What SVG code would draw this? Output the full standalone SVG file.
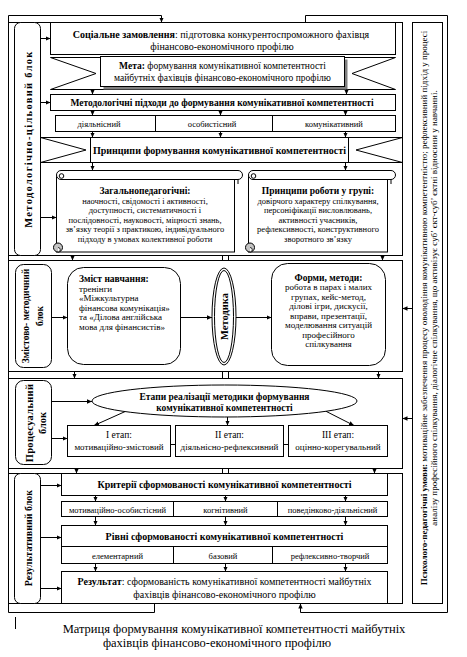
<svg xmlns="http://www.w3.org/2000/svg" width="467" height="657" viewBox="0 0 467 657">
<defs>
<marker id="ah" markerWidth="5" markerHeight="5" refX="5" refY="2.5" orient="auto" markerUnits="userSpaceOnUse"><path d="M0,0.3 L5,2.5 L0,4.7 z" fill="#000"/></marker>
<style>
.s{fill:#fff;stroke:#000;stroke-width:1}
.n{fill:none;stroke:#000;stroke-width:1}
.c{fill:none;stroke:#000;stroke-width:1;marker-end:url(#ah)}
text{font-family:"Liberation Serif","Times New Roman",serif;fill:#000}
.b{font-weight:bold}
.m{text-anchor:middle}
.f10{font-size:10px}
.f95{font-size:9.5px}
.f9{font-size:9px}
.f85{font-size:8.5px}
.g{fill:#c4c4c4;stroke:#000;stroke-width:1}
</style>
</defs>
<rect width="467" height="657" fill="#fff"/>

<g id="block-metod">
<rect class="s" x="8.5" y="22.5" width="394" height="233"/>
<rect class="s" x="14.5" y="22.5" width="26" height="233" rx="6"/>
<text class="b m" font-size="10.5" letter-spacing="1.3" transform="translate(32,139) rotate(-90)">Методологічно-цільовий блок</text>
</g>

<g id="social">
<rect class="s" x="50.5" y="22.5" width="345" height="32"/>
<text class="f10 m" x="221" y="37.5"><tspan class="b">Соціальне замовлення</tspan>: підготовка конкурентоспроможного фахівця</text>
<text class="f10 m" x="222" y="50">фінансово-економічного профілю</text>
</g>

<g id="meta">
<polygon class="s" points="50.5,57.5 395.5,57.5 352,73.5 395.5,89.5 50.5,89.5 96,73.5"/>
<rect x="103.5" y="59.5" width="244" height="30" fill="#7f7f7f"/>
<rect class="s" x="100.5" y="56.5" width="244" height="30"/>
<text class="f95 m" x="222.5" y="68.5"><tspan class="b">Мета:</tspan> формування комунікативної компетентності</text>
<text class="f95 m" x="222.5" y="80.5">майбутніх фахівців фінансово-економічного профілю</text>
</g>

<g id="approaches">
<rect class="s" x="50.5" y="94.5" width="345" height="16"/>
<text class="f95 b m" x="222" y="106">Методологічні підходи до формування комунікативної компетентності</text>
</g>

<g id="approach-cells">
<rect class="s" x="55.5" y="115.5" width="340" height="16"/>
<line class="n" x1="155.5" y1="115.5" x2="155.5" y2="131.5"/>
<line class="n" x1="272.5" y1="115.5" x2="272.5" y2="131.5"/>
<text class="f85 m" x="99" y="127">діяльнісний</text>
<text class="f85 m" x="212" y="127">особистісний</text>
<text class="f85 m" x="334" y="127">комунікативний</text>
</g>

<g id="pryntsypy">
<polygon class="s" points="40.5,137.5 402.5,137.5 356,150 402.5,162.5 40.5,162.5 86,150"/>
<rect class="s" x="90.5" y="137.5" width="258" height="25"/>
<text class="f10 b m" x="219.5" y="153.5">Принципи формування комунікативної компетентності</text>
</g>

<g id="scroll-general">
<rect class="s" x="56.5" y="175.5" width="178" height="76.5"/>
<path class="s" d="M61,170.5 H238 A4.5,4.5 0 0 1 238,179.5 H61 A4.5,4.5 0 0 1 61,170.5 Z"/>
<circle class="n" cx="61.5" cy="176" r="2.3"/>
<path class="n" d="M238,179.5 V184"/>
<circle class="g" cx="58" cy="247.5" r="4.5"/>
<path d="M58,247.5 A2.2,2.2 0 0 1 58,252" fill="#fff" stroke="#000" stroke-width="0.8"/>
<text class="f95 b m" x="145" y="194">Загальнопедагогічні:</text>
<text class="f85 m" x="145" y="203.5">наочності, свідомості і активності,</text>
<text class="f85 m" x="145" y="213">доступності, систематичності і</text>
<text class="f85 m" x="145" y="222.5">послідовності, науковості, міцності знань,</text>
<text class="f85 m" x="145" y="232">зв’язку теорії з практикою, індивідуального</text>
<text class="f85 m" x="145" y="241.5">підходу в умовах колективної роботи</text>
</g>

<g id="scroll-group">
<rect class="s" x="248.5" y="175.5" width="139" height="76.5"/>
<path class="s" d="M253,170.5 H391 A4.5,4.5 0 0 1 391,179.5 H253 A4.5,4.5 0 0 1 253,170.5 Z"/>
<circle class="n" cx="253.5" cy="176" r="2.3"/>
<path class="n" d="M391,179.5 V184"/>
<circle class="g" cx="250" cy="247.5" r="4.5"/>
<path d="M250,247.5 A2.2,2.2 0 0 1 250,252" fill="#fff" stroke="#000" stroke-width="0.8"/>
<text class="f95 b m" x="318" y="194">Принципи роботи у групі:</text>
<text class="f85 m" x="318" y="203.5">довірчого характеру спілкування,</text>
<text class="f85 m" x="318" y="213">персоніфікації висловлювань,</text>
<text class="f85 m" x="318" y="222.5">активності учасників,</text>
<text class="f85 m" x="318" y="232">рефлексивності, конструктивного</text>
<text class="f85 m" x="318" y="241.5">зворотного зв’язку</text>
</g>

<g id="block-zmist">
<rect class="s" x="8.5" y="260.5" width="394" height="111"/>
<rect class="s" x="15.5" y="264.5" width="36" height="103" rx="8"/>
<text class="f95 b m" transform="translate(29,316) rotate(-90)">Змістово- методичний</text>
<text class="f95 b m" transform="translate(42.5,316) rotate(-90)">блок</text>
</g>

<g id="zmist">
<rect class="s" x="67.5" y="267.5" width="113" height="97" rx="16"/>
<text class="f95 b" x="79" y="282">Зміст навчання:</text>
<text class="f9" x="79" y="291.5">тренінги</text>
<text class="f9" x="79" y="301">«Міжкультурна</text>
<text class="f9" x="79" y="310.5">фінансова комунікація»</text>
<text class="f9" x="79" y="320">та «Ділова англійська</text>
<text class="f9" x="79" y="329.5">мова для фінансистів»</text>
</g>

<g id="metodyka">
<ellipse class="s" cx="224" cy="316.5" rx="12" ry="48.5"/>
<ellipse class="n" cx="224" cy="316.5" rx="9.5" ry="46"/>
<text class="b m" font-size="10.5" transform="translate(228,316.5) rotate(-90)">Методика</text>
</g>

<g id="formy">
<rect class="s" x="271.5" y="263.5" width="114" height="102" rx="16"/>
<text class="f95 b m" x="328.5" y="280.5">Форми, методи:</text>
<text class="f9 m" x="328.5" y="290">робота в парах і малих</text>
<text class="f9 m" x="328.5" y="299.5">групах, кейс-метод,</text>
<text class="f9 m" x="328.5" y="309">ділові ігри, дискусії,</text>
<text class="f9 m" x="328.5" y="318.5">вправи, презентації,</text>
<text class="f9 m" x="328.5" y="328">моделювання ситуацій</text>
<text class="f9 m" x="328.5" y="337.5">професійного</text>
<text class="f9 m" x="328.5" y="347">спілкування</text>
</g>

<g id="block-proc">
<rect class="s" x="8.5" y="378.5" width="394" height="90"/>
<rect class="s" x="15.5" y="380.5" width="36" height="84" rx="8"/>
<text class="b m" font-size="10.5" letter-spacing="0.3" transform="translate(32.5,423) rotate(-90)">Процесуальний</text>
<text class="b m" font-size="10.5" transform="translate(46,423) rotate(-90)">блок</text>
</g>

<g id="etapy">
<ellipse class="s" cx="224.5" cy="401" rx="132.5" ry="16"/>
<text class="f95 b m" x="224.5" y="399.5">Етапи реалізації методики формування</text>
<text class="f95 b m" x="224.5" y="410.5">комунікативної компетентності</text>
</g>

<g id="stage1">
<rect class="s" x="67.5" y="425.5" width="103" height="31"/>
<text class="f95 m" x="119" y="438">I етап:</text>
<text class="f9 m" x="119" y="449.5">мотиваційно-змістовий</text>
</g>
<g id="stage2">
<rect class="s" x="175.5" y="425.5" width="108" height="31"/>
<text class="f95 m" x="229.5" y="438">II етап:</text>
<text class="f9 m" x="229.5" y="449.5">діяльнісно-рефлексивний</text>
</g>
<g id="stage3">
<rect class="s" x="288.5" y="425.5" width="99" height="31"/>
<text class="f95 m" x="338" y="438">III етап:</text>
<text class="f9 m" x="338" y="449.5">оцінно-корегувальний</text>
</g>

<g id="block-result">
<rect class="s" x="8.5" y="473.5" width="394" height="130"/>
<rect class="s" x="14.5" y="473.5" width="26" height="130" rx="6"/>
<text class="f10 b m" transform="translate(32,538) rotate(-90)">Результативний блок</text>
</g>

<g id="kryterii">
<rect class="s" x="61.5" y="473.5" width="326" height="22"/>
<text class="f10 b m" x="224.5" y="488">Критерії сформованості комунікативної компетентності</text>
</g>
<g id="kryterii-cells">
<rect class="s" x="61.5" y="501.5" width="326" height="15"/>
<line class="n" x1="173.5" y1="501.5" x2="173.5" y2="516.5"/>
<line class="n" x1="277.5" y1="501.5" x2="277.5" y2="516.5"/>
<text class="f85 m" x="117.5" y="512.5">мотиваційно-особистісний</text>
<text class="f85 m" x="225.5" y="512.5">когнітивний</text>
<text class="f85 m" x="332.5" y="512.5">поведінково-діяльнісний</text>
</g>
<g id="rivni">
<rect class="s" x="61.5" y="525.5" width="326" height="21"/>
<text class="f10 b m" x="224.5" y="540">Рівні сформованості комунікативної компетентності</text>
<rect class="s" x="61.5" y="546.5" width="326" height="17"/>
<line class="n" x1="173.5" y1="546.5" x2="173.5" y2="563.5"/>
<line class="n" x1="272.5" y1="546.5" x2="272.5" y2="563.5"/>
<text class="f85 m" x="117.5" y="558.5">елементарний</text>
<text class="f85 m" x="223" y="558.5">базовий</text>
<text class="f85 m" x="330" y="558.5">рефлексивно-творчий</text>
</g>
<g id="rezultat">
<rect class="s" x="61.5" y="571.5" width="326" height="32"/>
<text class="f10 m" x="224.5" y="585"><tspan class="b">Результат</tspan>: сформованість комунікативної компетентності майбутніх</text>
<text class="f10 m" x="224.5" y="598">фахівців фінансово-економічного профілю</text>
</g>

<g id="umovy">
<rect class="s" x="412.5" y="22.5" width="30" height="581"/>
<text class="f9 m" transform="translate(427,308) rotate(-90)"><tspan class="b">Психолого-педагогічні умови:</tspan> мотиваційне забезпечення процесу оволодіння комунікативною компетентністю; рефлексивний підхід у процесі</text>
<text class="f9 m" transform="translate(437,308) rotate(-90)">аналізу професійного спілкування, діалогічне спілкування, що активізує суб’ єкт-суб’ єктні відносини у навчанні.</text>
</g>

<g id="caption">
<text class="m" font-size="12.5" x="234" y="633">Матриця формування комунікативної компетентності майбутніх</text>
<text class="m" font-size="12.5" x="217" y="647">фахівців фінансово-економічного профілю</text>
<line class="n" x1="15.5" y1="617" x2="15.5" y2="629"/>
</g>

<g id="connectors">
<path class="c" d="M154.5,603.5 V612.5 H8.5 V15.5 H161.5 V22.5"/>
<path class="c" d="M305.5,22.5 V15.5 H447.5 V612.5 H300.5 V603.5"/>
<path class="c" d="M40.5,38.5 H50.5"/>
<path class="c" d="M92.5,89.5 V94.5"/>
<path class="c" d="M346.5,89.5 V94.5"/>
<path class="c" d="M40.5,102.5 H50.5"/>
<path class="c" d="M92.5,110.5 V115.5"/>
<path class="c" d="M220.5,110.5 V115.5"/>
<path class="c" d="M345.5,110.5 V115.5"/>
<path class="c" d="M92.5,131.5 V137.5"/>
<path class="c" d="M220.5,131.5 V137.5"/>
<path class="c" d="M345.5,131.5 V137.5"/>
<path class="c" d="M92.5,162.5 V170.5"/>
<path class="c" d="M345.5,162.5 V170.5"/>
<path class="c" d="M40.5,217.5 H56.5"/>
<path class="c" d="M72.5,255.5 V260.5"/>
<path class="c" d="M382.5,255.5 V260.5"/>
<path class="n" d="M222.5,255.5 V260.5 M228.5,255.5 V260.5"/>
<path class="c" d="M51.5,317.5 H67.5"/>
<path class="c" d="M180.5,317.5 H212"/>
<path class="c" d="M236,317.5 H271.5"/>
<path class="c" d="M412.5,308.5 H402.5"/>
<path class="c" d="M74.5,371.5 V378.5"/>
<path class="c" d="M378.5,371.5 V378.5"/>
<path class="n" d="M222.5,371.5 V378.5 M228.5,371.5 V378.5"/>
<path class="c" d="M51.5,401.5 H92"/>
<path class="c" d="M125,411.6 L94,425.5"/>
<path class="c" d="M227.5,417 V425.5"/>
<path class="c" d="M326,411.3 L354,425.5"/>
<path class="c" d="M51.5,438.5 H67.5"/>
<path class="n" d="M170.5,444.5 H175.5 M283.5,444.5 H288.5"/>
<path class="c" d="M412.5,418.5 H402.5"/>
<path class="c" d="M76.5,468.5 V473.5"/>
<path class="c" d="M374.5,468.5 V473.5"/>
<path class="n" d="M222.5,468.5 V473.5 M228.5,468.5 V473.5"/>
<path class="c" d="M40.5,485.5 H61.5"/>
<path class="c" d="M40.5,537.5 H61.5"/>
<path class="c" d="M40.5,588.5 H61.5"/>
<path class="c" d="M95.5,495.5 V501.5"/>
<path class="c" d="M225.5,495.5 V501.5"/>
<path class="c" d="M345.5,495.5 V501.5"/>
<path class="c" d="M95.5,516.5 V525.5"/>
<path class="c" d="M225.5,516.5 V525.5"/>
<path class="c" d="M345.5,516.5 V525.5"/>
<path class="c" d="M95.5,563.5 V571.5"/>
<path class="c" d="M225.5,563.5 V571.5"/>
<path class="c" d="M345.5,563.5 V571.5"/>
</g>
</svg>
